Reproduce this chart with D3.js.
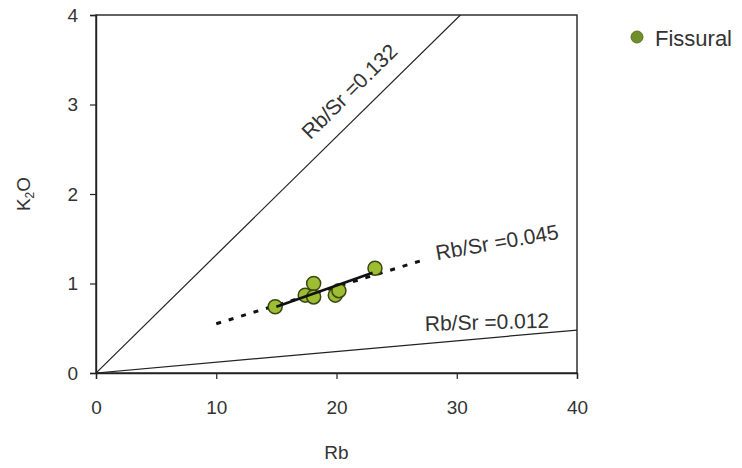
<!DOCTYPE html>
<html>
<head>
<meta charset="utf-8">
<script src="https://cdn.jsdelivr.net/npm/d3@7"></script>
<style>
  html, body { margin: 0; padding: 0; background: #fff; }
  svg { display: block; font-family: "Liberation Sans", Arial, sans-serif; }
</style>
</head>
<body>
<svg id="chart" width="742" height="468"></svg>
<script>
// ---- data ----
const rb  = [14.9, 17.4, 18.1, 18.1, 19.9, 20.2, 23.2];
const k2o = [0.74, 0.87, 1.00, 0.85, 0.87, 0.92, 1.17];
const seriesName = "Fissural";

const xTicks = [0, 10, 20, 30, 40];
const yTicks = [0, 1, 2, 3, 4];

// reference Rb/Sr lines (pass through origin)
const refRatios = [0.132, 0.012];
const refLabels = ["Rb/Sr =0.132", "Rb/Sr =0.012"];
const refLabelAt = [[21.5, 3.09], [27.36, 0.47]];
const refLabelAngle = [-44.7, -1.5];

// regression line for the series
const trendDashed = [[10, 0.55], [27.4, 1.27]];
const trendSolid  = [[15.0, 0.74], [23.0, 1.12]];
const trendLabel = "Rb/Sr =0.045";
const trendLabelAt = [28.36, 1.26];
const trendLabelAngle = -10;

// ---- chart ----
const svg = d3.select("#chart");
const x = d3.scaleLinear().domain([0, 40]).range([96, 577]);
const y = d3.scaleLinear().domain([0, 4]).range([373, 15]);
const textColor = "#333";

// frame
svg.append("rect")
  .attr("x", x(0)).attr("y", y(4))
  .attr("width", x(40) - x(0)).attr("height", y(0) - y(4))
  .attr("fill", "none").attr("stroke", "#222").attr("stroke-width", 1.4);

// clip for lines
svg.append("clipPath").attr("id", "plot")
  .append("rect").attr("x", x(0)).attr("y", y(4))
  .attr("width", x(40) - x(0)).attr("height", y(0) - y(4));

const line = d3.line().x(d => x(d[0])).y(d => y(d[1]));

refRatios.forEach((r, i) => {
  const xEnd = Math.min(40, 4 / r);
  svg.append("path")
    .attr("d", line([[0, 0], [xEnd, r * xEnd]]))
    .attr("clip-path", "url(#plot)")
    .attr("fill", "none").attr("stroke", "#222").attr("stroke-width", 1.2);
  const [lx, ly] = refLabelAt[i];
  svg.append("text")
    .attr("transform", `translate(${x(lx)},${y(ly)}) rotate(${refLabelAngle[i]})`)
    .attr("text-anchor", i === 0 ? "middle" : "start")
    .attr("font-size", 21).attr("fill", textColor)
    .text(refLabels[i]);
});

// trend lines
svg.append("path")
  .attr("d", line(trendDashed))
  .attr("fill", "none").attr("stroke", "#111").attr("stroke-width", 3)
  .attr("stroke-dasharray", "5,8");

// points
svg.append("g").selectAll("circle")
  .data(rb.map((v, i) => [v, k2o[i]]))
  .join("circle")
  .attr("cx", d => x(d[0])).attr("cy", d => y(d[1]))
  .attr("r", 7)
  .attr("fill", "#9dbd33").attr("stroke", "#3a4712").attr("stroke-width", 1.5);

svg.append("path")
  .attr("d", line(trendSolid))
  .attr("fill", "none").attr("stroke", "#111").attr("stroke-width", 2.6);

svg.append("text")
  .attr("transform", `translate(${x(trendLabelAt[0])},${y(trendLabelAt[1])}) rotate(${trendLabelAngle})`)
  .attr("font-size", 21).attr("fill", textColor)
  .text(trendLabel);

// axes
const xAxis = svg.append("g")
  .attr("transform", `translate(0,${y(0)})`)
  .call(d3.axisBottom(x).tickValues(xTicks).tickFormat(d3.format("d")).tickSize(6).tickPadding(22));
const yAxis = svg.append("g")
  .attr("transform", `translate(${x(0)},0)`)
  .call(d3.axisLeft(y).tickValues(yTicks).tickFormat(d3.format("d")).tickSize(6).tickPadding(12));
[xAxis, yAxis].forEach(g => {
  g.select(".domain").attr("stroke", "#222").attr("stroke-width", 1.4);
  g.selectAll(".tick line").attr("stroke", "#222").attr("stroke-width", 1.2);
  g.selectAll(".tick text").attr("font-size", 19).attr("fill", textColor)
    .attr("font-family", "'Liberation Sans', Arial, sans-serif");
});

// axis titles
svg.append("text")
  .attr("x", x(20)).attr("y", 459)
  .attr("text-anchor", "middle").attr("font-size", 19).attr("fill", textColor)
  .text("Rb");

const yt = svg.append("text")
  .attr("transform", `translate(30,${y(2)}) rotate(-90)`)
  .attr("text-anchor", "middle").attr("font-size", 19).attr("fill", textColor);
yt.append("tspan").text("K");
yt.append("tspan").attr("font-size", 12).attr("dy", 4).text("2");
yt.append("tspan").attr("dy", -4).text("O");

// legend
svg.append("circle")
  .attr("cx", 637).attr("cy", 37).attr("r", 6)
  .attr("fill", "#6f8f2a").attr("stroke", "#5a7322").attr("stroke-width", 1);
svg.append("text")
  .attr("x", 655).attr("y", 46)
  .attr("font-size", 22).attr("fill", textColor)
  .text(seriesName);
</script>
</body>
</html>
